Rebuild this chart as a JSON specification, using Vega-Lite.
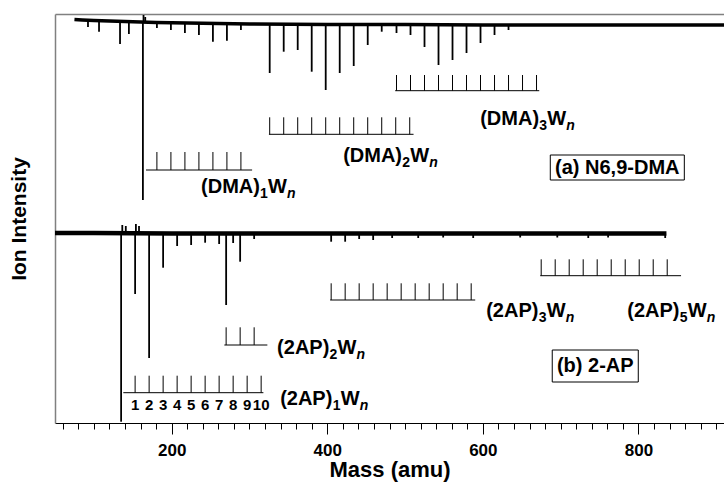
{
  "$schema": "https://vega.github.io/schema/vega-lite/v6.json",
  "width": 669,
  "height": 409,
  "autosize": {"type": "none"},
  "padding": {"left": 55, "top": 14, "right": 0, "bottom": 61},
  "config": {"view": {"stroke": null}, "font": "Liberation Sans"},
  "datasets": {
    "baselines": [
      {"trace": "a", "mass": 75, "intensity": 403.5},
      {"trace": "a", "mass": 85, "intensity": 403},
      {"trace": "a", "mass": 100, "intensity": 402.5},
      {"trace": "a", "mass": 120, "intensity": 402},
      {"trace": "a", "mass": 140, "intensity": 401.5},
      {"trace": "a", "mass": 160, "intensity": 401},
      {"trace": "a", "mass": 180, "intensity": 400.5},
      {"trace": "a", "mass": 220, "intensity": 400},
      {"trace": "a", "mass": 260, "intensity": 399.5},
      {"trace": "a", "mass": 300, "intensity": 399},
      {"trace": "a", "mass": 400, "intensity": 398.5},
      {"trace": "a", "mass": 500, "intensity": 398.5},
      {"trace": "a", "mass": 600, "intensity": 398},
      {"trace": "a", "mass": 700, "intensity": 398},
      {"trace": "a", "mass": 800, "intensity": 398},
      {"trace": "a", "mass": 910, "intensity": 398},
      {"trace": "b", "mass": 50, "intensity": 190},
      {"trace": "b", "mass": 100, "intensity": 190},
      {"trace": "b", "mass": 200, "intensity": 189.5},
      {"trace": "b", "mass": 300, "intensity": 189.5},
      {"trace": "b", "mass": 400, "intensity": 189.5},
      {"trace": "b", "mass": 500, "intensity": 189.5},
      {"trace": "b", "mass": 600, "intensity": 189.5},
      {"trace": "b", "mass": 700, "intensity": 189.5},
      {"trace": "b", "mass": 836, "intensity": 189.5}
    ],
    "peaks": [
      {"trace": "a", "mass": 92.4, "base": 402.7, "tip": 396},
      {"trace": "a", "mass": 106.6, "base": 402.5, "tip": 391.3},
      {"trace": "a", "mass": 133.6, "base": 401.7, "tip": 379},
      {"trace": "a", "mass": 145, "base": 401.3, "tip": 389},
      {"trace": "a", "mass": 163, "base": 401, "tip": 223},
      {"trace": "a", "mass": 163.8, "base": 401, "tip": 408},
      {"trace": "a", "mass": 166, "base": 401, "tip": 406},
      {"trace": "a", "mass": 181, "base": 400.5, "tip": 395},
      {"trace": "a", "mass": 199, "base": 400.3, "tip": 393},
      {"trace": "a", "mass": 217, "base": 400, "tip": 390},
      {"trace": "a", "mass": 235, "base": 399.8, "tip": 388},
      {"trace": "a", "mass": 253, "base": 399.6, "tip": 381.3},
      {"trace": "a", "mass": 271, "base": 399.4, "tip": 382.3},
      {"trace": "a", "mass": 289, "base": 399.2, "tip": 393},
      {"trace": "a", "mass": 326, "base": 399, "tip": 350},
      {"trace": "a", "mass": 344, "base": 399, "tip": 371.3},
      {"trace": "a", "mass": 362, "base": 399, "tip": 373},
      {"trace": "a", "mass": 380, "base": 398.8, "tip": 351.3},
      {"trace": "a", "mass": 398, "base": 398.7, "tip": 333},
      {"trace": "a", "mass": 416, "base": 398.6, "tip": 350},
      {"trace": "a", "mass": 434, "base": 398.6, "tip": 357},
      {"trace": "a", "mass": 452, "base": 398.5, "tip": 378},
      {"trace": "a", "mass": 470, "base": 398.5, "tip": 391.3},
      {"trace": "a", "mass": 489, "base": 398.5, "tip": 390},
      {"trace": "a", "mass": 507, "base": 398.5, "tip": 388},
      {"trace": "a", "mass": 525, "base": 398.4, "tip": 376},
      {"trace": "a", "mass": 543, "base": 398.3, "tip": 358},
      {"trace": "a", "mass": 561, "base": 398.2, "tip": 363},
      {"trace": "a", "mass": 579, "base": 398.1, "tip": 370},
      {"trace": "a", "mass": 597, "base": 398, "tip": 380},
      {"trace": "a", "mass": 615, "base": 398, "tip": 388},
      {"trace": "a", "mass": 633, "base": 398, "tip": 393},
      {"trace": "b", "mass": 135, "base": 190, "tip": 1.3},
      {"trace": "b", "mass": 136.5, "base": 190, "tip": 198},
      {"trace": "b", "mass": 141, "base": 190, "tip": 197},
      {"trace": "b", "mass": 153, "base": 190, "tip": 129},
      {"trace": "b", "mass": 154, "base": 190, "tip": 199},
      {"trace": "b", "mass": 158, "base": 190, "tip": 197},
      {"trace": "b", "mass": 171, "base": 189.7, "tip": 65},
      {"trace": "b", "mass": 189, "base": 189.7, "tip": 155.3},
      {"trace": "b", "mass": 207, "base": 189.6, "tip": 177},
      {"trace": "b", "mass": 225, "base": 189.6, "tip": 178},
      {"trace": "b", "mass": 243, "base": 189.6, "tip": 180.3},
      {"trace": "b", "mass": 261, "base": 189.5, "tip": 179},
      {"trace": "b", "mass": 270, "base": 189.5, "tip": 118},
      {"trace": "b", "mass": 279, "base": 189.5, "tip": 180},
      {"trace": "b", "mass": 288, "base": 189.5, "tip": 161.3},
      {"trace": "b", "mass": 306, "base": 189.5, "tip": 184},
      {"trace": "b", "mass": 405, "base": 189.5, "tip": 181.3},
      {"trace": "b", "mass": 423, "base": 189.5, "tip": 181.3},
      {"trace": "b", "mass": 441, "base": 189.5, "tip": 184},
      {"trace": "b", "mass": 459, "base": 189.5, "tip": 183},
      {"trace": "b", "mass": 483.4, "base": 189.5, "tip": 185},
      {"trace": "b", "mass": 516.9, "base": 189.5, "tip": 185},
      {"trace": "b", "mass": 549, "base": 189.5, "tip": 185.5},
      {"trace": "b", "mass": 587.6, "base": 189.5, "tip": 185},
      {"trace": "b", "mass": 648, "base": 189.5, "tip": 185.5},
      {"trace": "b", "mass": 695.7, "base": 189.5, "tip": 185.5},
      {"trace": "b", "mass": 735.5, "base": 189.5, "tip": 185},
      {"trace": "b", "mass": 761, "base": 189.5, "tip": 185.5},
      {"trace": "b", "mass": 834.4, "base": 189.5, "tip": 185}
    ],
    "rulerLines": [
      {"series": "DMA1", "start": 167, "end": 303.4, "level": 253},
      {"series": "DMA2", "start": 325, "end": 510.9, "level": 288.7},
      {"series": "DMA3", "start": 487.3, "end": 672.5, "level": 332.3},
      {"series": "2AP1", "start": 137.8, "end": 317.9, "level": 30.3},
      {"series": "2AP2", "start": 267.7, "end": 323, "level": 78},
      {"series": "2AP3", "start": 403.7, "end": 590.2, "level": 123},
      {"series": "2AP5", "start": 673.8, "end": 854.8, "level": 147.3}
    ],
    "rulerTicks": [
      {"series": "DMA1", "mass": 181, "low": 253, "high": 271},
      {"series": "DMA1", "mass": 199, "low": 253, "high": 271},
      {"series": "DMA1", "mass": 217, "low": 253, "high": 271},
      {"series": "DMA1", "mass": 235, "low": 253, "high": 271},
      {"series": "DMA1", "mass": 253, "low": 253, "high": 271},
      {"series": "DMA1", "mass": 271, "low": 253, "high": 271},
      {"series": "DMA1", "mass": 289, "low": 253, "high": 271},
      {"series": "DMA2", "mass": 326, "low": 288.7, "high": 305.7},
      {"series": "DMA2", "mass": 344, "low": 288.7, "high": 305.7},
      {"series": "DMA2", "mass": 362, "low": 288.7, "high": 305.7},
      {"series": "DMA2", "mass": 380, "low": 288.7, "high": 305.7},
      {"series": "DMA2", "mass": 398, "low": 288.7, "high": 305.7},
      {"series": "DMA2", "mass": 416, "low": 288.7, "high": 305.7},
      {"series": "DMA2", "mass": 434, "low": 288.7, "high": 305.7},
      {"series": "DMA2", "mass": 452, "low": 288.7, "high": 305.7},
      {"series": "DMA2", "mass": 470, "low": 288.7, "high": 305.7},
      {"series": "DMA2", "mass": 488, "low": 288.7, "high": 305.7},
      {"series": "DMA2", "mass": 506, "low": 288.7, "high": 305.7},
      {"series": "DMA3", "mass": 489, "low": 332.3, "high": 348},
      {"series": "DMA3", "mass": 507, "low": 332.3, "high": 348},
      {"series": "DMA3", "mass": 525, "low": 332.3, "high": 348},
      {"series": "DMA3", "mass": 543, "low": 332.3, "high": 348},
      {"series": "DMA3", "mass": 561, "low": 332.3, "high": 348},
      {"series": "DMA3", "mass": 579, "low": 332.3, "high": 348},
      {"series": "DMA3", "mass": 597, "low": 332.3, "high": 348},
      {"series": "DMA3", "mass": 615, "low": 332.3, "high": 348},
      {"series": "DMA3", "mass": 633, "low": 332.3, "high": 348},
      {"series": "DMA3", "mass": 651, "low": 332.3, "high": 348},
      {"series": "DMA3", "mass": 669, "low": 332.3, "high": 348},
      {"series": "2AP1", "mass": 153, "low": 30.3, "high": 47.3},
      {"series": "2AP1", "mass": 171, "low": 30.3, "high": 47.3},
      {"series": "2AP1", "mass": 189, "low": 30.3, "high": 47.3},
      {"series": "2AP1", "mass": 207, "low": 30.3, "high": 47.3},
      {"series": "2AP1", "mass": 225, "low": 30.3, "high": 47.3},
      {"series": "2AP1", "mass": 243, "low": 30.3, "high": 47.3},
      {"series": "2AP1", "mass": 261, "low": 30.3, "high": 47.3},
      {"series": "2AP1", "mass": 279, "low": 30.3, "high": 47.3},
      {"series": "2AP1", "mass": 297, "low": 30.3, "high": 47.3},
      {"series": "2AP1", "mass": 315, "low": 30.3, "high": 47.3},
      {"series": "2AP2", "mass": 270, "low": 78, "high": 95.7},
      {"series": "2AP2", "mass": 288, "low": 78, "high": 95.7},
      {"series": "2AP2", "mass": 306, "low": 78, "high": 95.7},
      {"series": "2AP3", "mass": 405, "low": 123, "high": 139.7},
      {"series": "2AP3", "mass": 423, "low": 123, "high": 139.7},
      {"series": "2AP3", "mass": 441, "low": 123, "high": 139.7},
      {"series": "2AP3", "mass": 459, "low": 123, "high": 139.7},
      {"series": "2AP3", "mass": 477, "low": 123, "high": 139.7},
      {"series": "2AP3", "mass": 495, "low": 123, "high": 139.7},
      {"series": "2AP3", "mass": 513, "low": 123, "high": 139.7},
      {"series": "2AP3", "mass": 531, "low": 123, "high": 139.7},
      {"series": "2AP3", "mass": 549, "low": 123, "high": 139.7},
      {"series": "2AP3", "mass": 567, "low": 123, "high": 139.7},
      {"series": "2AP3", "mass": 585, "low": 123, "high": 139.7},
      {"series": "2AP5", "mass": 675, "low": 147.3, "high": 163.7},
      {"series": "2AP5", "mass": 693, "low": 147.3, "high": 163.7},
      {"series": "2AP5", "mass": 711, "low": 147.3, "high": 163.7},
      {"series": "2AP5", "mass": 729, "low": 147.3, "high": 163.7},
      {"series": "2AP5", "mass": 747, "low": 147.3, "high": 163.7},
      {"series": "2AP5", "mass": 765, "low": 147.3, "high": 163.7},
      {"series": "2AP5", "mass": 783, "low": 147.3, "high": 163.7},
      {"series": "2AP5", "mass": 801, "low": 147.3, "high": 163.7},
      {"series": "2AP5", "mass": 819, "low": 147.3, "high": 163.7},
      {"series": "2AP5", "mass": 837, "low": 147.3, "high": 163.7}
    ],
    "rulerNumbers": [
      {"n": "1", "mass": 153, "intensity": 17.7},
      {"n": "2", "mass": 171, "intensity": 17.7},
      {"n": "3", "mass": 189, "intensity": 17.7},
      {"n": "4", "mass": 207, "intensity": 17.7},
      {"n": "5", "mass": 225, "intensity": 17.7},
      {"n": "6", "mass": 243, "intensity": 17.7},
      {"n": "7", "mass": 261, "intensity": 17.7},
      {"n": "8", "mass": 279, "intensity": 17.7},
      {"n": "9", "mass": 297, "intensity": 17.7},
      {"n": "10", "mass": 315, "intensity": 17.7}
    ],
    "labels": [
      {"prefix": "(DMA)", "k": "1", "mass": 237.8, "intensity": 230},
      {"prefix": "(DMA)", "k": "2", "mass": 420.4, "intensity": 261},
      {"prefix": "(DMA)", "k": "3", "mass": 596.6, "intensity": 298},
      {"prefix": "(2AP)", "k": "1", "mass": 339.4, "intensity": 18},
      {"prefix": "(2AP)", "k": "2", "mass": 335.5, "intensity": 69},
      {"prefix": "(2AP)", "k": "3", "mass": 604.3, "intensity": 106},
      {"prefix": "(2AP)", "k": "5", "mass": 785.7, "intensity": 106}
    ],
    "boxes": [
      {"text": "(a) N6,9-DMA", "left": 686.7, "right": 859, "bottom": 243, "top": 268, "cx": 772.8, "cy": 255.5},
      {"text": "(b) 2-AP", "left": 689.2, "right": 799.8, "bottom": 41, "top": 73, "cx": 744.5, "cy": 57}
    ]
  },
  "resolve": {"axis": {"x": "independent", "y": "independent"}},
  "layer": [
    {
      "data": {"name": "baselines"},
      "mark": {"type": "line", "color": "black", "clip": true},
      "encoding": {
        "x": {
          "field": "mass", "type": "quantitative",
          "scale": {"domain": [50, 910], "nice": false, "zero": false},
          "axis": {
            "orient": "bottom",
            "values": [60,80,100,120,140,160,180,200,220,240,260,280,300,320,340,360,380,400,420,440,460,480,500,520,540,560,580,600,620,640,660,680,700,720,740,760,780,800,820,840,860,880,900],
            "grid": false,
            "domainColor": "black",
            "domainWidth": 1,
            "tickColor": "black",
            "tickWidth": 1,
            "tickSize": {"condition": {"test": "datum.value % 200 === 0", "value": 11}, "value": 6},
            "labelExpr": "datum.value % 200 === 0 ? datum.label : ''",
            "labelOverlap": false,
            "labelFont": "Liberation Sans",
            "labelFontWeight": "bold",
            "labelFontSize": 17,
            "labelColor": "black",
            "labelPadding": 8,
            "title": "Mass (amu)",
            "titleFont": "Liberation Sans",
            "titleFontWeight": "bold",
            "titleFontSize": 22,
            "titleColor": "black",
            "titlePadding": 1
          }
        },
        "y": {
          "field": "intensity", "type": "quantitative",
          "scale": {"domain": [0, 409], "nice": false, "zero": false},
          "axis": {
            "orient": "left",
            "grid": false,
            "ticks": false,
            "labels": false,
            "domainColor": "#808080",
            "domainWidth": 1.5,
            "title": "Ion Intensity",
            "titleFont": "Liberation Sans",
            "titleFontWeight": "bold",
            "titleFontSize": 21,
            "titleColor": "black",
            "titlePadding": 26
          }
        },
        "detail": {"field": "trace", "type": "nominal"},
        "strokeWidth": {"field": "trace", "type": "nominal", "scale": {"domain": ["a", "b"], "range": [3.5, 4.5]}, "legend": null}
      }
    },
    {
      "data": {"name": "peaks"},
      "mark": {"type": "rule", "color": "black", "strokeWidth": 1.8},
      "encoding": {
        "x": {
          "field": "mass", "type": "quantitative",
          "axis": {"orient": "top", "grid": false, "ticks": false, "labels": false, "domainColor": "#808080", "domainWidth": 1.5, "title": null}
        },
        "y": {"field": "base", "type": "quantitative", "axis": null},
        "y2": {"field": "tip"}
      }
    },
    {
      "data": {"name": "rulerLines"},
      "mark": {"type": "rule", "color": "black", "strokeWidth": 1},
      "encoding": {
        "x": {"field": "start", "type": "quantitative", "axis": null},
        "x2": {"field": "end"},
        "y": {"field": "level", "type": "quantitative", "axis": null}
      }
    },
    {
      "data": {"name": "rulerTicks"},
      "mark": {"type": "rule", "color": "black", "strokeWidth": 1},
      "encoding": {
        "x": {"field": "mass", "type": "quantitative", "axis": null},
        "y": {"field": "low", "type": "quantitative", "axis": null},
        "y2": {"field": "high"}
      }
    },
    {
      "data": {"name": "rulerNumbers"},
      "mark": {"type": "text", "font": "Liberation Sans", "fontWeight": "bold", "fontSize": 15, "color": "black", "align": "center", "baseline": "middle"},
      "encoding": {
        "x": {"field": "mass", "type": "quantitative", "axis": null},
        "y": {"field": "intensity", "type": "quantitative", "axis": null},
        "text": {"field": "n"}
      }
    },
    {
      "data": {"name": "labels"},
      "mark": {"type": "text", "font": "Liberation Sans", "fontWeight": "bold", "fontSize": 20, "color": "black", "align": "left", "baseline": "alphabetic"},
      "encoding": {
        "x": {"field": "mass", "type": "quantitative", "axis": null},
        "y": {"field": "intensity", "type": "quantitative", "axis": null},
        "text": {"field": "prefix"}
      }
    },
    {
      "data": {"name": "labels"},
      "transform": [{"filter": "datum.prefix === '(DMA)'"}],
      "layer": [
        {
          "mark": {"type": "text", "font": "Liberation Sans", "fontWeight": "bold", "fontSize": 14, "color": "black", "align": "left", "baseline": "alphabetic", "dx": 59, "dy": 5},
          "encoding": {
            "x": {"field": "mass", "type": "quantitative", "axis": null},
            "y": {"field": "intensity", "type": "quantitative", "axis": null},
            "text": {"field": "k"}
          }
        },
        {
          "mark": {"type": "text", "font": "Liberation Sans", "fontWeight": "bold", "fontSize": 20, "color": "black", "align": "left", "baseline": "alphabetic", "dx": 67, "text": "W"},
          "encoding": {
            "x": {"field": "mass", "type": "quantitative", "axis": null},
            "y": {"field": "intensity", "type": "quantitative", "axis": null}
          }
        },
        {
          "mark": {"type": "text", "font": "Liberation Sans", "fontWeight": "bold", "fontStyle": "italic", "fontSize": 14, "color": "black", "align": "left", "baseline": "alphabetic", "dx": 86, "dy": 5, "text": "n"},
          "encoding": {
            "x": {"field": "mass", "type": "quantitative", "axis": null},
            "y": {"field": "intensity", "type": "quantitative", "axis": null}
          }
        }
      ]
    },
    {
      "data": {"name": "labels"},
      "transform": [{"filter": "datum.prefix === '(2AP)'"}],
      "layer": [
        {
          "mark": {"type": "text", "font": "Liberation Sans", "fontWeight": "bold", "fontSize": 14, "color": "black", "align": "left", "baseline": "alphabetic", "dx": 52.5, "dy": 5},
          "encoding": {
            "x": {"field": "mass", "type": "quantitative", "axis": null},
            "y": {"field": "intensity", "type": "quantitative", "axis": null},
            "text": {"field": "k"}
          }
        },
        {
          "mark": {"type": "text", "font": "Liberation Sans", "fontWeight": "bold", "fontSize": 20, "color": "black", "align": "left", "baseline": "alphabetic", "dx": 60.5, "text": "W"},
          "encoding": {
            "x": {"field": "mass", "type": "quantitative", "axis": null},
            "y": {"field": "intensity", "type": "quantitative", "axis": null}
          }
        },
        {
          "mark": {"type": "text", "font": "Liberation Sans", "fontWeight": "bold", "fontStyle": "italic", "fontSize": 14, "color": "black", "align": "left", "baseline": "alphabetic", "dx": 79.5, "dy": 5, "text": "n"},
          "encoding": {
            "x": {"field": "mass", "type": "quantitative", "axis": null},
            "y": {"field": "intensity", "type": "quantitative", "axis": null}
          }
        }
      ]
    },
    {
      "data": {"name": "boxes"},
      "mark": {"type": "rect", "fill": "white", "stroke": "black", "strokeWidth": 1},
      "encoding": {
        "x": {"field": "left", "type": "quantitative", "axis": null},
        "x2": {"field": "right"},
        "y": {"field": "bottom", "type": "quantitative", "axis": null},
        "y2": {"field": "top"}
      }
    },
    {
      "data": {"name": "boxes"},
      "mark": {"type": "text", "font": "Liberation Sans", "fontWeight": "bold", "fontSize": 20, "color": "black", "align": "center", "baseline": "middle"},
      "encoding": {
        "x": {"field": "cx", "type": "quantitative", "axis": null},
        "y": {"field": "cy", "type": "quantitative", "axis": null},
        "text": {"field": "text"}
      }
    }
  ]
}
